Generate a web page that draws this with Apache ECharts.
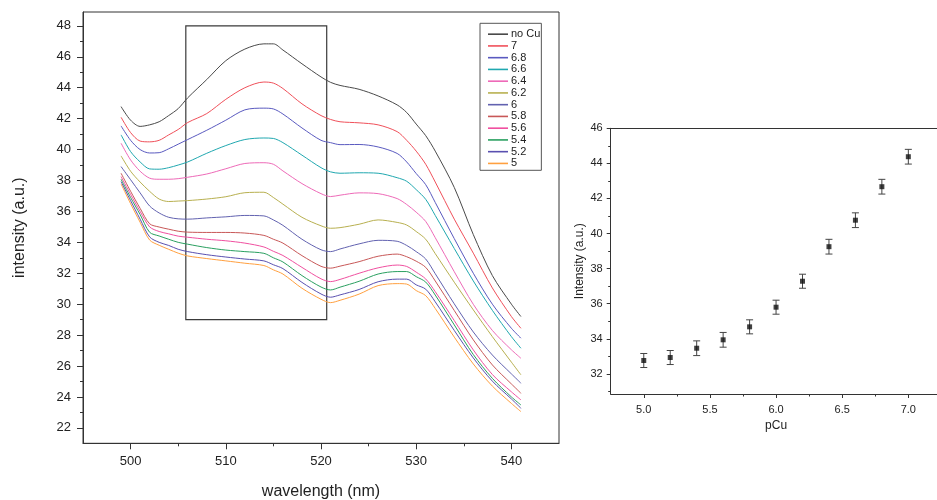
<!DOCTYPE html>
<html>
<head>
<meta charset="utf-8">
<script src="https://cdn.jsdelivr.net/npm/echarts@6/dist/echarts.min.js"></script>
<style>html,body{margin:0;padding:0;background:#fff;}#c{width:937px;height:500px;}</style>
</head>
<body>
<div id="c"></div>
<script>
// ---- Left panel: spectra ----
const wavelengths = [499,500,501,502,503,504,505,506,508,510,512,514,515,516,518,520,521,522,524,526,528,529,530,531,532,534,536,538,540,541];
const seriesNames = ['no Cu','7','6.8','6.6','6.4','6.2','6','5.8','5.6','5.4','5.2','5'];
const noCu = [42.78,41.9,41.5,41.6,41.8,42.2,42.65,43.35,44.53,45.75,46.5,46.84,46.84,46.44,45.55,44.7,44.35,44.15,43.9,43.47,42.89,42.4,41.65,40.9,39.9,37.55,34.5,31.85,30.0,29.2];
const pCu70 = [42.09,41.1,40.55,40.5,40.6,40.95,41.3,41.75,42.33,43.25,44.0,44.37,44.3,43.95,42.96,42.2,41.95,41.8,41.73,41.6,41.16,40.6,39.9,39.05,37.9,35.5,33.3,31.05,29.2,28.44];
const pCu68 = [41.53,40.6,40.0,39.78,39.8,40.05,40.35,40.65,41.25,41.9,42.57,42.68,42.63,42.3,41.4,40.6,40.45,40.32,40.33,40.17,39.75,39.2,38.45,37.73,36.58,34.24,32.0,30.0,28.44,27.8];
const pCu66 = [40.95,39.87,39.2,38.75,38.73,38.83,39.0,39.2,39.76,40.26,40.65,40.75,40.72,40.45,39.64,38.83,38.56,38.47,38.5,38.47,38.18,37.95,37.41,36.78,35.74,33.6,31.5,29.6,27.9,27.15];
const pCu64 = [40.41,39.33,38.6,38.15,38.08,38.08,38.12,38.21,38.42,38.76,39.1,39.15,39.05,38.62,37.8,37.15,36.96,37.05,37.2,37.15,36.83,36.45,35.95,35.35,34.3,32.1,29.99,28.3,27.05,26.5];
const pCu62 = [39.59,38.6,37.9,37.3,36.8,36.64,36.67,36.7,36.8,36.95,37.21,37.24,36.9,36.47,35.62,35.07,34.91,34.95,35.17,35.45,35.29,35.12,34.7,34.2,33.27,31.42,29.63,27.9,26.25,25.43];
const pCu60 = [38.9,38.05,37.2,36.35,35.9,35.62,35.52,35.5,35.58,35.65,35.74,35.71,35.45,35.1,34.2,33.52,33.4,33.57,33.9,34.13,34.07,33.8,33.4,32.92,31.97,30.02,28.2,26.71,25.49,24.89];
const pCu58 = [38.47,37.3,36.2,35.2,34.99,34.85,34.72,34.66,34.64,34.64,34.6,34.45,34.2,33.95,33.14,32.45,32.33,32.46,32.75,33.1,33.24,33.07,32.78,32.38,31.5,29.59,27.69,26.07,24.84,24.24];
const pCu56 = [38.25,37.1,36.0,35.0,34.7,34.55,34.4,34.33,34.2,34.1,33.95,33.7,33.42,33.15,32.38,31.64,31.46,31.6,32.0,32.35,32.53,32.44,32.07,31.63,30.81,28.94,27.04,25.45,24.33,23.81];
const pCu54 = [38.08,36.9,35.8,34.65,34.41,34.2,34.0,33.88,33.66,33.5,33.4,33.29,33.0,32.73,31.85,31.11,30.92,31.1,31.48,31.95,32.11,32.11,31.78,31.43,30.59,28.66,26.74,25.2,24.0,23.48];
const pCu52 = [37.93,36.7,35.5,34.35,34.0,33.8,33.55,33.4,33.2,33.05,32.92,32.8,32.55,32.3,31.41,30.66,30.45,30.6,30.95,31.45,31.62,31.62,31.25,30.97,30.15,28.3,26.52,25.02,23.87,23.27];
const pCu50 = [37.78,36.5,35.3,34.15,33.81,33.55,33.3,33.12,32.95,32.8,32.65,32.5,32.22,31.95,31.03,30.32,30.1,30.25,30.65,31.2,31.33,31.3,30.88,30.55,29.72,27.87,26.13,24.7,23.58,23.05];
const spectra = [noCu,pCu70,pCu68,pCu66,pCu64,pCu62,pCu60,pCu58,pCu56,pCu54,pCu52,pCu50];
const colors = ['#4a4a4a','#f0505a','#5a5ac0','#20a8b0','#ee6ab8','#b8b050','#6262b0','#c85858','#f050a0','#2aa060','#5a50b0','#ffa040'];
const leftXTicks = [500,510,520,530,540];
const leftXMinor = [505,515,525,535];
const leftYTicks = [22,24,26,28,30,32,34,36,38,40,42,44,46,48];
const leftYMinor = [23,25,27,29,31,33,35,37,39,41,43,45,47];
const boxX = [505.8, 520.6];
const boxY = [29, 48];

// ---- Right panel: intensity vs pCu ----
const pCuValues = [5.0,5.2,5.4,5.6,5.8,6.0,6.2,6.4,6.6,6.8,7.0];
const intensity = [32.76,32.93,33.46,33.94,34.68,35.8,37.28,39.25,40.76,42.67,44.38];
const intensityErr = [0.4,0.4,0.42,0.42,0.4,0.4,0.4,0.42,0.42,0.42,0.42];
const rightXTicks = [5.0,5.5,6.0,6.5,7.0];
const rightXMinor = [5.25,5.75,6.25,6.75];
const rightYTicks = [32,34,36,38,40,42,44,46];
const rightYMinor = [31,33,35,37,39,41,43,45];

const FONT = 'Liberation Sans, Arial, sans-serif';
const axisColor = '#333';

const chart = echarts.init(document.getElementById('c'), null, {renderer:'canvas'});

const lineSeries = seriesNames.map((n,i)=>({
  name: n, type:'line', xAxisIndex:0, yAxisIndex:0,
  data: wavelengths.map((w,j)=>[w, spectra[i][j]]),
  symbol:'none', smooth:0.3,
  lineStyle:{width:1, color:colors[i]}, itemStyle:{color:colors[i]},
  z: 3 + (seriesNames.length - i)
}));
lineSeries[0].markArea = {
  silent:true,
  itemStyle:{color:'rgba(0,0,0,0)', borderColor:'#3a3a3a', borderWidth:1.2},
  data:[[{xAxis:boxX[0], yAxis:boxY[1]},{xAxis:boxX[1], yAxis:boxY[0]}]]
};

function mainAxis(extra){
  return Object.assign({
    type:'value', splitLine:{show:false},
    axisLine:{show:true, onZero:false, lineStyle:{color:axisColor, width:1}},
  }, extra);
}

const option = {
  animation:false,
  backgroundColor:'#fff',
  textStyle:{fontFamily:FONT},
  grid:[
    {left:83, top:12, right:378, bottom:56.7, show:true, borderColor:axisColor, borderWidth:1, containLabel:false, outerBoundsMode:'none'},
    {left:610.7, top:128.3, right:-4.4, bottom:106, show:false, containLabel:false, outerBoundsMode:'none'}
  ],
  legend:{
    data: seriesNames.map(n=>({name:n, icon:'rect'})), orient:'vertical', left:480, top:23.3,
    padding:[5,1,1,8], itemGap:0, itemWidth:20, itemHeight:1.6,
    borderColor:'#555', borderWidth:1, backgroundColor:'#fff',
    textStyle:{fontSize:11, color:'#222', fontFamily:FONT, lineHeight:11.75, padding:[0,0,0,-2]},
    selectedMode:false
  },
  xAxis:[
    mainAxis({gridIndex:0, min:495, max:545,
      name:'wavelength (nm)', nameLocation:'middle', nameGap:40,
      nameTextStyle:{fontSize:16, color:'#222', fontFamily:FONT},
      axisTick:{show:true, inside:false, length:6, customValues:leftXTicks, lineStyle:{color:axisColor}},
      axisLabel:{show:true, margin:12, fontSize:13, color:'#222', fontFamily:FONT, customValues:leftXTicks}
    }),
    {type:'value', gridIndex:0, min:495, max:545, position:'bottom',
      axisLine:{show:false}, splitLine:{show:false}, axisLabel:{show:false},
      axisTick:{show:true, length:3, customValues:leftXMinor, lineStyle:{color:axisColor}}},
    mainAxis({gridIndex:1, min:4.75, max:7.25,
      name:'pCu', nameLocation:'middle', nameGap:24,
      nameTextStyle:{fontSize:12, color:'#222', fontFamily:FONT},
      axisTick:{show:true, length:4, customValues:rightXTicks, lineStyle:{color:axisColor}},
      axisLabel:{show:true, margin:10, fontSize:11, color:'#222', fontFamily:FONT, customValues:rightXTicks,
        formatter:(v)=>Number(v).toFixed(1)}
    }),
    {type:'value', gridIndex:1, min:4.75, max:7.25, position:'bottom',
      axisLine:{show:false}, splitLine:{show:false}, axisLabel:{show:false},
      axisTick:{show:true, length:2.5, customValues:rightXMinor, lineStyle:{color:axisColor}}},
    {type:'value', gridIndex:1, min:4.75, max:7.25, position:'top',
      axisLine:{show:true, lineStyle:{color:axisColor, width:1}}, splitLine:{show:false},
      axisLabel:{show:false}, axisTick:{show:false}}
  ],
  yAxis:[
    mainAxis({gridIndex:0, min:21, max:48.9,
      name:'intensity (a.u.)', nameLocation:'middle', nameGap:55,
      nameTextStyle:{fontSize:16, color:'#222', fontFamily:FONT},
      axisTick:{show:true, length:6, customValues:leftYTicks, lineStyle:{color:axisColor}},
      axisLabel:{show:true, margin:12, fontSize:13, color:'#222', fontFamily:FONT, customValues:leftYTicks}
    }),
    {type:'value', gridIndex:0, min:21, max:48.9, position:'left',
      axisLine:{show:false}, splitLine:{show:false}, axisLabel:{show:false},
      axisTick:{show:true, length:3, customValues:leftYMinor, lineStyle:{color:axisColor}}},
    mainAxis({gridIndex:1, min:30.85, max:46,
      name:'Intensity (a.u.)', nameLocation:'middle', nameGap:25,
      nameTextStyle:{fontSize:12, color:'#222', fontFamily:FONT},
      axisTick:{show:true, length:4, customValues:rightYTicks, lineStyle:{color:axisColor}},
      axisLabel:{show:true, margin:8, fontSize:11, color:'#222', fontFamily:FONT, customValues:rightYTicks}
    }),
    {type:'value', gridIndex:1, min:30.85, max:46, position:'left',
      axisLine:{show:false}, splitLine:{show:false}, axisLabel:{show:false},
      axisTick:{show:true, length:2.5, customValues:rightYMinor, lineStyle:{color:axisColor}}}
  ],
  series: lineSeries.concat([
    {
      type:'custom', name:'err', xAxisIndex:2, yAxisIndex:2,
      data: pCuValues.map((p,i)=>[p, intensity[i], intensityErr[i]]),
      renderItem:(params, api)=>{
        const x = api.value(0), y = api.value(1), e = api.value(2);
        const top = api.coord([x, y+e]);
        const bot = api.coord([x, y-e]);
        const hw = 3.5;
        const st = {stroke:'#444', lineWidth:1};
        return {type:'group', children:[
          {type:'line', shape:{x1:top[0], y1:top[1], x2:bot[0], y2:bot[1]}, style:st},
          {type:'line', shape:{x1:top[0]-hw, y1:top[1], x2:top[0]+hw, y2:top[1]}, style:st},
          {type:'line', shape:{x1:bot[0]-hw, y1:bot[1], x2:bot[0]+hw, y2:bot[1]}, style:st}
        ]};
      },
      z:5
    },
    {
      type:'scatter', name:'pts', xAxisIndex:2, yAxisIndex:2,
      data: pCuValues.map((p,i)=>[p, intensity[i]]),
      symbol:'rect', symbolSize:5, itemStyle:{color:'#111'}, z:6
    }
  ])
};
chart.setOption(option);
</script>
</body>
</html>
